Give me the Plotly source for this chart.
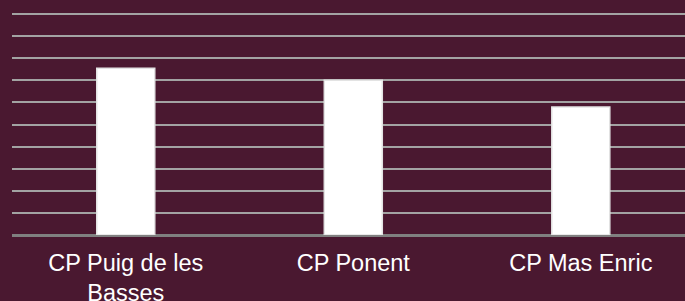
import plotly.graph_objects as go

categories = ["CP Puig de les<br>Basses", "CP Ponent", "CP Mas Enric"]
values = [7.55, 7.0, 5.8]
y_ticks = [0, 1, 2, 3, 4, 5, 6, 7, 8, 9, 10]

BG = "#4A1830"

fig = go.Figure(
    go.Bar(
        x=categories,
        y=values,
        width=0.255,
        marker=dict(color="#FFFFFF", line=dict(color="#E3E3E3", width=1.5)),
        hoverinfo="skip",
    )
)

fig.update_layout(
    width=685,
    height=301,
    paper_bgcolor=BG,
    plot_bgcolor=BG,
    margin=dict(l=12, r=0, t=13, b=66, pad=0, autoexpand=False),
    showlegend=False,
    font=dict(family="Liberation Sans, Arial, sans-serif", color="#FFFFFF"),
)

fig.update_xaxes(
    range=[-0.5, 2.458],
    automargin=False,
    showgrid=False,
    showline=False,
    zeroline=False,
    tickfont=dict(size=23.5, color="#FFFFFF"),
    ticks="",
    ticklabelstandoff=11,
)

fig.update_yaxes(
    range=[0, 10.05],
    automargin=False,
    tickvals=y_ticks,
    showticklabels=False,
    showgrid=True,
    gridcolor="#A3A3A3",
    gridwidth=2,
    zeroline=True,
    zerolinecolor="#808080",
    zerolinewidth=2.5,
    ticks="",
)

fig.write_html(
    "out.html",
    config={"displayModeBar": False},
    post_script="document.body.style.margin='0';document.body.style.background='" + BG + "';",
)
